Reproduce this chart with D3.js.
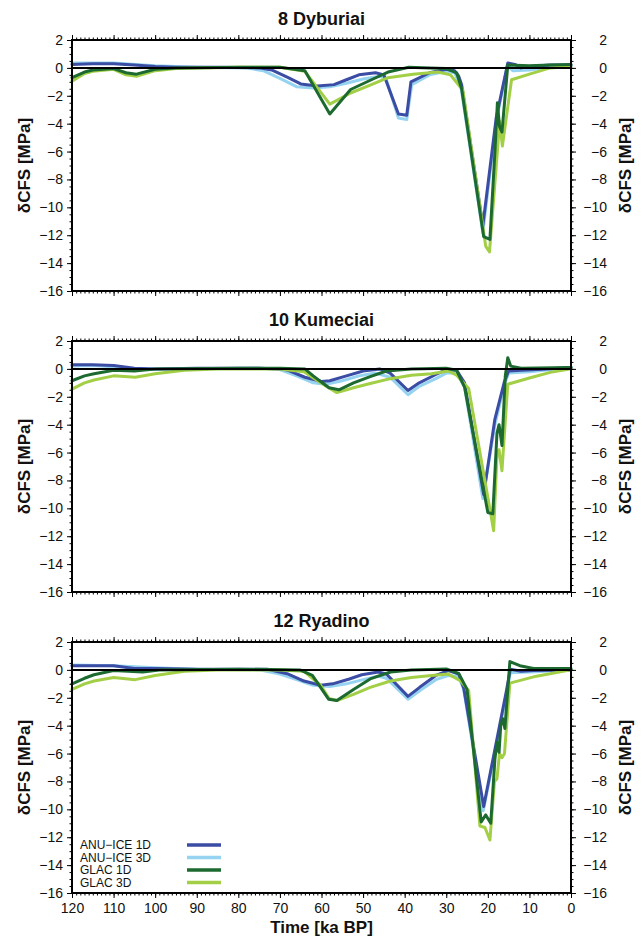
<!DOCTYPE html>
<html>
<head>
<meta charset="utf-8">
<script src="https://cdn.jsdelivr.net/npm/d3@7"></script>
<style>
  html, body { margin: 0; padding: 0; background: #fff; }
  svg { display: block; }
  text { font-family: "Liberation Sans", Arial, Helvetica, sans-serif; fill: #111; }
</style>
</head>
<body>
<svg id="chart" width="644" height="942"></svg>
<script>
// Time axis (ka BP) and stress axis (MPa)
const xTicks = [120, 110, 100, 90, 80, 70, 60, 50, 40, 30, 20, 10, 0];
const yTicks = [2, 0, -2, -4, -6, -8, -10, -12, -14, -16];

const seriesNames = ["ANU\u2212ICE 1D", "ANU\u2212ICE 3D", "GLAC 1D", "GLAC 3D"];
const seriesColors = ["#3a4ca3", "#95d3f0", "#1c6a2f", "#a2cf45"];

// 8 Dyburiai — [time ka BP, δCFS MPa]
const dyburiaiAnu1D = [[120,0.25],[115,0.3],[110,0.3],[105,0.2],[100,0.1],[95,0.05],[85,0.05],[75,0.0],[72,-0.15],[68,-0.7],[65,-1.15],[61,-1.3],[57,-1.2],[54,-0.85],[51,-0.5],[47,-0.35],[45,-0.5],[41.5,-3.3],[39.5,-3.4],[38.5,-1.0],[34,-0.35],[30,-0.1],[28,-0.2],[27,-0.6],[26.3,-1.2],[21.2,-11.3],[18,-3.6],[15.2,0.35],[13.5,0.25],[12,0.0],[10,0.1],[5,0.2],[0,0.2]];
const dyburiaiAnu3D = [[120,0.35],[110,0.35],[100,0.15],[90,0.05],[78,0.0],[74,-0.2],[70,-0.75],[66,-1.35],[62,-1.45],[58,-1.35],[54,-1.1],[50,-0.8],[46,-0.6],[44.5,-0.75],[41.5,-3.6],[39.5,-3.7],[38.3,-1.2],[34,-0.5],[30,-0.25],[28,-0.35],[26.5,-1.3],[21.2,-11.8],[18,-3.9],[15.3,0.2],[14,-0.2],[10,-0.15],[5,0.05],[0,0.15]];
const dyburiaiGlac1D = [[120,-0.7],[117,-0.3],[115,-0.15],[110,-0.05],[107,-0.35],[104.5,-0.45],[100,-0.1],[95,0.0],[80,0.05],[70,0.05],[64,-0.2],[58,-3.3],[53,-1.55],[48,-0.85],[44,-0.3],[39,0.05],[34,0.0],[30,-0.05],[27.5,-0.35],[26.3,-1.5],[21,-12.1],[19.5,-12.3],[18.2,-5.5],[17.7,-2.5],[17.2,-4.2],[16.6,-4.6],[15.2,0.2],[10,0.15],[5,0.2],[0,0.25]];
const dyburiaiGlac3D = [[120,-0.95],[117,-0.4],[115,-0.25],[110,-0.1],[107,-0.5],[104.5,-0.6],[100,-0.2],[95,-0.05],[80,0.05],[70,0.05],[64,-0.25],[58,-2.6],[53,-1.8],[48,-1.2],[44,-0.7],[38,-0.45],[32,-0.3],[29,-0.5],[27.5,-1.05],[26,-1.6],[20.5,-12.8],[19.6,-13.2],[17.6,-5.6],[17.2,-3.8],[16.5,-5.6],[14.3,-0.85],[10,-0.45],[5,0.0],[0,0.1]];

// 10 Kumeciai
const kumeciaiAnu1D = [[120,0.3],[115,0.3],[110,0.25],[105,0.05],[100,0.0],[90,0.05],[75,0.05],[70,0.0],[68,-0.1],[64,-0.6],[60,-0.9],[58,-0.85],[54,-0.5],[50,-0.15],[46,0.0],[43.5,-0.3],[39.2,-1.55],[36.5,-1.0],[32.5,-0.4],[30,-0.05],[27.5,-0.1],[25.6,-1.0],[21,-9.0],[18.3,-3.6],[16,-0.9],[15,-0.15],[12,-0.1],[8,-0.05],[0,0.1]];
const kumeciaiAnu3D = [[120,0.2],[115,0.25],[110,0.15],[105,0.0],[95,0.0],[75,0.05],[70,-0.05],[66,-0.5],[62,-1.0],[59,-1.1],[55,-0.85],[51,-0.5],[47,-0.3],[43.5,-0.6],[39.2,-1.85],[36.5,-1.25],[32.5,-0.7],[30,-0.3],[27.5,-0.3],[25.6,-1.3],[21.2,-9.3],[18.3,-4.0],[16,-1.1],[15,-0.3],[10,-0.2],[0,0.1]];
const kumeciaiGlac1D = [[120,-0.85],[117,-0.5],[114.7,-0.35],[110,-0.1],[105,-0.15],[100,0.0],[80,0.05],[70,0.05],[64,0.0],[62,-0.5],[58.2,-1.35],[55.8,-1.5],[52.3,-1.0],[48.3,-0.55],[44.4,-0.15],[38.4,0.0],[30,0.05],[27.5,-0.1],[25.6,-1.3],[20,-10.3],[18.8,-10.4],[17.8,-4.6],[17.3,-4.0],[16.6,-5.5],[15.8,-0.5],[15.2,0.8],[14.5,0.2],[12,0.05],[0,0.1]];
const kumeciaiGlac3D = [[120,-1.45],[117,-1.0],[114.7,-0.8],[110,-0.5],[104.8,-0.6],[100,-0.35],[93,-0.1],[85,0.0],[70,0.0],[64.2,-0.2],[60.2,-1.0],[56.3,-1.7],[52.3,-1.35],[48.3,-1.05],[43.4,-0.7],[38.4,-0.45],[33.5,-0.35],[29.5,-0.15],[27.5,-0.45],[24.6,-1.4],[18.6,-11.6],[17.8,-6.2],[17.3,-5.8],[16.6,-7.3],[16.2,-5.5],[15.2,-1.1],[10,-0.65],[5,-0.25],[0,0.0]];

// 12 Ryadino
const ryadinoAnu1D = [[120,0.3],[110,0.3],[105,0.1],[100,0.1],[90,0.05],[73,0.05],[68,-0.3],[64.2,-0.8],[60.2,-1.1],[57.3,-1.0],[53.3,-0.65],[50.3,-0.35],[46.4,-0.15],[44.4,-0.3],[39.2,-1.9],[36.4,-1.25],[32.5,-0.4],[29.5,-0.05],[27,-0.3],[25.8,-1.3],[21,-9.8],[15.6,-1.6],[14.6,0.05],[12,-0.1],[9,-0.05],[0,0.0]];
const ryadinoAnu3D = [[120,0.35],[110,0.3],[100,0.15],[90,0.05],[75,0.0],[70,-0.3],[66,-0.7],[62,-1.1],[58,-1.2],[54,-1.0],[50,-0.7],[46.4,-0.45],[44.4,-0.6],[39.2,-2.1],[36.4,-1.5],[32.5,-0.7],[29.5,-0.4],[27,-0.5],[25.8,-1.4],[21.1,-10.1],[15.6,-1.9],[14.6,-0.2],[10,-0.15],[0,0.0]];
const ryadinoGlac1D = [[120,-1.0],[117,-0.6],[114.7,-0.35],[110,-0.05],[103,-0.15],[99,0.0],[80,0.05],[65.2,0.0],[62.2,-0.4],[58.3,-2.1],[56.3,-2.2],[52.3,-1.4],[48.3,-0.65],[43.4,-0.15],[38.4,0.0],[30,0.07],[27,-0.25],[25,-1.4],[21.6,-10.9],[20.5,-10.4],[19.3,-11.0],[18.3,-6.4],[17.8,-5.2],[17.3,-5.9],[16.9,-4.0],[16.4,-3.5],[15.9,-4.2],[14.7,0.6],[12.3,0.3],[9,0.1],[0,0.1]];
const ryadinoGlac3D = [[120,-1.4],[117,-1.0],[114.7,-0.8],[110,-0.55],[104.8,-0.7],[100,-0.4],[93,-0.1],[85,0.0],[70,0.0],[64.2,-0.1],[60.2,-1.1],[58.2,-2.05],[56.3,-2.2],[52.3,-1.75],[48.3,-1.25],[43.4,-0.8],[38.4,-0.55],[33.5,-0.4],[29.5,-0.3],[26.5,-0.8],[24.6,-1.5],[21.9,-11.2],[20.7,-11.3],[19.5,-12.2],[18.4,-8.0],[17.8,-7.8],[17.2,-6.0],[16.6,-6.3],[16.0,-6.0],[14.7,-0.95],[8.3,-0.45],[0,0.0]];

const panelTitles = ["8 Dyburiai", "10 Kumeciai", "12 Ryadino"];
const panelSeries = [
  [dyburiaiAnu1D, dyburiaiAnu3D, dyburiaiGlac1D, dyburiaiGlac3D],
  [kumeciaiAnu1D, kumeciaiAnu3D, kumeciaiGlac1D, kumeciaiGlac3D],
  [ryadinoAnu1D, ryadinoAnu3D, ryadinoGlac1D, ryadinoGlac3D]
];

// ---- layout ----
const left = 72, right = 571;
const panelTops = [40, 341, 642];
const panelH = 251;
const drawOrder = [1, 0, 3, 2]; // 3D runs underneath the 1D runs

const svg = d3.select("#chart");
const x = d3.scaleLinear().domain([120, 0]).range([left, right]);
const minus = d3.format("d");

panelTops.forEach((top, p) => {
  const y = d3.scaleLinear().domain([2, -16]).range([top, top + panelH]);
  const g = svg.append("g");

  // curves
  const line = d3.line().x(d => x(d[0])).y(d => y(d[1]));
  drawOrder.forEach(i => {
    g.append("path")
      .datum(panelSeries[p][i])
      .attr("d", line)
      .attr("fill", "none")
      .attr("stroke", seriesColors[i])
      .attr("stroke-width", 3)
      .attr("stroke-linejoin", "round")
      .attr("stroke-linecap", "round");
  });

  // zero line
  g.append("line")
    .attr("x1", left).attr("x2", right)
    .attr("y1", y(0)).attr("y2", y(0))
    .attr("stroke", "#000").attr("stroke-width", 2);

  // minor + major ticks on all four sides
  const yMinor = d3.range(-16, 2.01, 0.5);
  const xMinor = d3.range(0, 120.01, 1);
  const addAxis = (axis, tx, ty, labels) => {
    const a = g.append("g").attr("transform", `translate(${tx},${ty})`).call(axis);
    a.select(".domain").remove();
    a.selectAll("line").attr("stroke", "#000").attr("stroke-width", 1);
    if (!labels) a.selectAll("text").remove();
    return a;
  };
  addAxis(d3.axisLeft(y).tickValues(yMinor).tickSize(2.5).tickFormat(""), left, 0, false);
  addAxis(d3.axisRight(y).tickValues(yMinor).tickSize(2.5).tickFormat(""), right, 0, false);
  addAxis(d3.axisTop(x).tickValues(xMinor).tickSize(2.5).tickFormat(""), 0, top, false);
  addAxis(d3.axisBottom(x).tickValues(xMinor).tickSize(2.5).tickFormat(""), 0, top + panelH, false);

  const yl = addAxis(d3.axisLeft(y).tickValues(yTicks).tickSize(5).tickPadding(4).tickFormat(minus), left, 0, true);
  const yr = addAxis(d3.axisRight(y).tickValues(yTicks).tickSize(5).tickPadding(0).tickFormat(minus), right, 0, true);
  yl.selectAll("text").style("font-size", "14px").attr("fill", "#222");
  yr.selectAll("text").style("font-size", "14px").attr("fill", "#222")
    .attr("text-anchor", "end").attr("x", 36);
  addAxis(d3.axisTop(x).tickValues(xTicks).tickSize(5).tickFormat(""), 0, top, false);
  const xb = addAxis(d3.axisBottom(x).tickValues(xTicks).tickSize(5).tickPadding(5).tickFormat(minus), 0, top + panelH, p === 2);
  xb.selectAll("text").style("font-size", "14px").attr("fill", "#222");

  // frame
  g.append("rect")
    .attr("x", left).attr("y", top)
    .attr("width", right - left).attr("height", panelH)
    .attr("fill", "none").attr("stroke", "#000").attr("stroke-width", 2);

  // title
  g.append("text")
    .attr("x", (left + right) / 2).attr("y", top - 15)
    .attr("text-anchor", "middle")
    .style("font-size", "18px").style("font-weight", "bold")
    .text(panelTitles[p]);

  // y-axis titles on both sides
  [24, 625].forEach(cx => {
    g.append("text")
      .attr("transform", `translate(${cx},${top + panelH / 2}) rotate(-90)`)
      .attr("text-anchor", "middle").attr("dy", "0.35em")
      .style("font-size", "17px").style("font-weight", "bold")
      .text("\u03b4CFS [MPa]");
  });

  // legend in the last panel
  if (p === 2) {
    const lg = g.append("g");
    seriesNames.forEach((name, i) => {
      const ry = 845 + i * 12.5;
      lg.append("text")
        .attr("x", 80).attr("y", ry).attr("dy", "0.35em")
        .style("font-size", "12px")
        .text(name);
      lg.append("line")
        .attr("x1", 187).attr("x2", 221)
        .attr("y1", ry).attr("y2", ry)
        .attr("stroke", seriesColors[i]).attr("stroke-width", 3.5);
    });
  }
});

// shared x-axis title
svg.append("text")
  .attr("x", (left + right) / 2).attr("y", 933)
  .attr("text-anchor", "middle")
  .style("font-size", "17px").style("font-weight", "bold")
  .text("Time [ka BP]");
</script>
</body>
</html>
